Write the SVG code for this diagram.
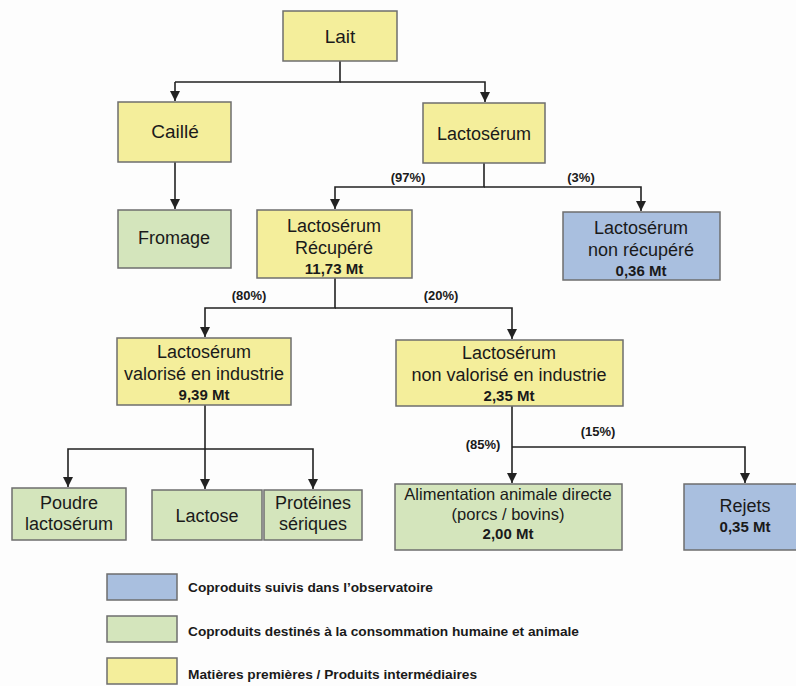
<svg xmlns="http://www.w3.org/2000/svg" width="796" height="686" viewBox="0 0 796 686">
<defs>
<style>
.y{fill:#F4EE9B;stroke:#6E6E6E;stroke-width:1.5}
.g{fill:#D4E5BC;stroke:#6E6E6E;stroke-width:1.5}
.b{fill:#A9BFDF;stroke:#6E6E6E;stroke-width:1.5}
text{font-family:"Liberation Sans",Arial,sans-serif;fill:#1a1a1a;text-anchor:middle}
.t{font-size:18px}
.m{font-size:15px;font-weight:bold}
.p{font-size:13px;font-weight:bold}
.l{font-size:13.7px;font-weight:bold;text-anchor:start}
.c{fill:none;stroke:#222;stroke-width:1.6}
</style>
<marker id="a" markerWidth="10" markerHeight="10" refX="10" refY="5" orient="auto" markerUnits="userSpaceOnUse" viewBox="0 0 10 10">
<path d="M0,0 L10,5 L0,10 Z" fill="#222"/>
</marker>
</defs>
<rect width="796" height="686" fill="#FDFDFD"/>
<g id="connectors">
<path class="c" d="M340,61 V82 H175"/>
<path class="c" d="M175,82 V101" marker-end="url(#a)"/>
<path class="c" d="M340,82 H485 V102" marker-end="url(#a)"/>
<path class="c" d="M175,162 V209" marker-end="url(#a)"/>
<path class="c" d="M484,163 V187 H335 V209" marker-end="url(#a)"/>
<path class="c" d="M484,187 H641 V211" marker-end="url(#a)"/>
<path class="c" d="M335,278 V308 H205 V337" marker-end="url(#a)"/>
<path class="c" d="M335,308 H512 V339" marker-end="url(#a)"/>
<path class="c" d="M205,405 V489" marker-end="url(#a)"/>
<path class="c" d="M205,449 H68 V487" marker-end="url(#a)"/>
<path class="c" d="M205,449 H313 V489" marker-end="url(#a)"/>
<path class="c" d="M512,406 V483" marker-end="url(#a)"/>
<path class="c" d="M512,447 H745 V483" marker-end="url(#a)"/>
<text class="p" x="408" y="182">(97%)</text>
<text class="p" x="581" y="182">(3%)</text>
<text class="p" x="249" y="300">(80%)</text>
<text class="p" x="441" y="300">(20%)</text>
<text class="p" x="483" y="449">(85%)</text>
<text class="p" x="598" y="436">(15%)</text>
</g>
<g id="lait"><rect class="y" x="283" y="11" width="114" height="50"/><text class="t" x="340" y="43" style="font-size:19px">Lait</text></g>
<g id="caille"><rect class="y" x="118" y="102" width="113" height="60"/><text class="t" x="175" y="138" style="font-size:19px">Caillé</text></g>
<g id="lactoserum"><rect class="y" x="423" y="103" width="122" height="60"/><text class="t" x="484" y="140">Lactosérum</text></g>
<g id="fromage"><rect class="g" x="118" y="210" width="113" height="58"/><text class="t" x="174" y="244">Fromage</text></g>
<g id="recupere"><rect class="y" x="257" y="210" width="155" height="68"/><text class="t" x="334" y="232">Lactosérum</text><text class="t" x="334" y="254">Récupéré</text><text class="m" x="334" y="274">11,73 Mt</text></g>
<g id="non-recupere"><rect class="b" x="563" y="212" width="157" height="68"/><text class="t" x="641" y="234">Lactosérum</text><text class="t" x="641" y="256">non récupéré</text><text class="m" x="641" y="276">0,36 Mt</text></g>
<g id="valorise"><rect class="y" x="117" y="338" width="174" height="67"/><text class="t" x="204" y="358">Lactosérum</text><text class="t" x="204" y="380">valorisé en industrie</text><text class="m" x="204" y="400">9,39 Mt</text></g>
<g id="non-valorise"><rect class="y" x="396" y="340" width="227" height="66"/><text class="t" x="509" y="359">Lactosérum</text><text class="t" x="509" y="381">non valorisé en industrie</text><text class="m" x="509" y="401">2,35 Mt</text></g>
<g id="poudre"><rect class="g" x="12" y="488" width="114" height="52"/><text class="t" x="69" y="509">Poudre</text><text class="t" x="69" y="530">lactosérum</text></g>
<g id="lactose"><rect class="g" x="152" y="490" width="110" height="50"/><text class="t" x="207" y="522">Lactose</text></g>
<g id="proteines"><rect class="g" x="264" y="490" width="98" height="50"/><text class="t" x="313" y="509">Protéines</text><text class="t" x="313" y="530">sériques</text></g>
<g id="alimentation"><rect class="g" x="395" y="484" width="227" height="66"/><text class="t" x="508" y="500" style="font-size:16.5px">Alimentation animale directe</text><text class="t" x="508" y="520" style="font-size:16.5px">(porcs / bovins)</text><text class="m" x="508" y="539">2,00 Mt</text></g>
<g id="rejets"><rect class="b" x="684" y="484" width="122" height="66"/><text class="t" x="745" y="512">Rejets</text><text class="m" x="745" y="532">0,35 Mt</text></g>
<g id="legend">
<rect class="b" x="107" y="574" width="70" height="26"/><text class="l" x="188" y="592">Coproduits suivis dans l’observatoire</text>
<rect class="g" x="107" y="616" width="70" height="26"/><text class="l" x="188" y="636">Coproduits destinés à la consommation humaine et animale</text>
<rect class="y" x="107" y="658" width="70" height="26"/><text class="l" x="188" y="679">Matières premières / Produits intermédiaires</text>
</g>
</svg>
